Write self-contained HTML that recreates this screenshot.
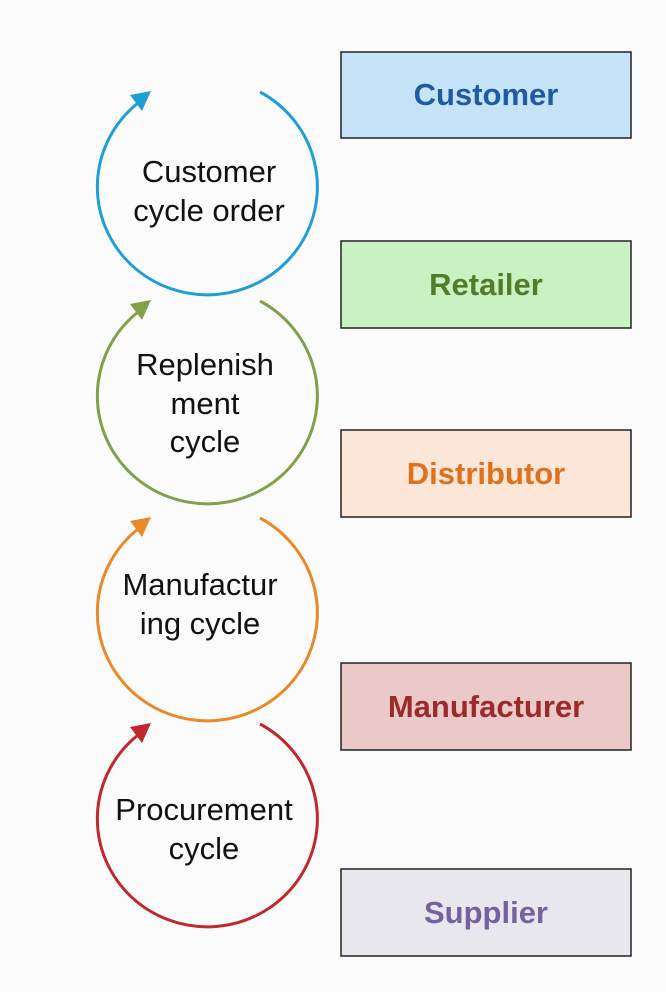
<!DOCTYPE html>
<html><head><meta charset="utf-8"><style>
html,body{margin:0;padding:0;background:#fbfbfc;}
svg{display:block}
</style></head><body>
<svg width="666" height="992" viewBox="0 0 666 992" xmlns="http://www.w3.org/2000/svg">
<rect width="666" height="992" fill="#fbfbfc"/>
<g font-family="Liberation Sans, sans-serif" font-weight="bold" font-size="31" text-anchor="middle">
<rect x="341" y="52" width="290" height="86" fill="#c6e4f7" stroke="#222" stroke-width="1.5"/>
<text x="486" y="105" fill="#1f5aa6">Customer</text>
<rect x="341" y="241" width="290" height="87" fill="#c8f2c2" stroke="#222" stroke-width="1.5"/>
<text x="486" y="295" fill="#547a2c">Retailer</text>
<rect x="341" y="430" width="290" height="87" fill="#fbe6d8" stroke="#222" stroke-width="1.5"/>
<text x="486" y="484" fill="#e0701c">Distributor</text>
<rect x="341" y="663" width="290" height="87" fill="#ecc9c9" stroke="#222" stroke-width="1.5"/>
<text x="486" y="717" fill="#9b2a2a">Manufacturer</text>
<rect x="341" y="869" width="290" height="87" fill="#e9e7ee" stroke="#222" stroke-width="1.5"/>
<text x="486" y="923" fill="#7560a0">Supplier</text>
</g>
<g fill="none" stroke-width="3">
<path d="M260,92 A110,108 0 1 1 138,103" stroke="#1e9fd6"/>
<path d="M260,301 A110,108 0 1 1 138,312" stroke="#82a04a"/>
<path d="M260,518 A110,108 0 1 1 138,529" stroke="#e8892a"/>
<path d="M260,724 A110,108 0 1 1 138,735" stroke="#c0282a"/>
</g>
<polygon points="151,91 130,95 142,111" fill="#1e9fd6"/>
<polygon points="151,300 130,304 142,320" fill="#82a04a"/>
<polygon points="151,517 130,521 142,537" fill="#e8892a"/>
<polygon points="151,723 130,727 142,743" fill="#c0282a"/>
<g font-family="Liberation Sans, sans-serif" font-size="31" fill="#111" text-anchor="middle">
<text x="209" y="182">Customer</text>
<text x="209" y="221">cycle order</text>
<text x="205" y="375">Replenish</text>
<text x="205" y="414">ment</text>
<text x="205" y="452">cycle</text>
<text x="200" y="595">Manufactur</text>
<text x="200" y="634">ing cycle</text>
<text x="204" y="820">Procurement</text>
<text x="204" y="859">cycle</text>
</g>
</svg>
</body></html>
